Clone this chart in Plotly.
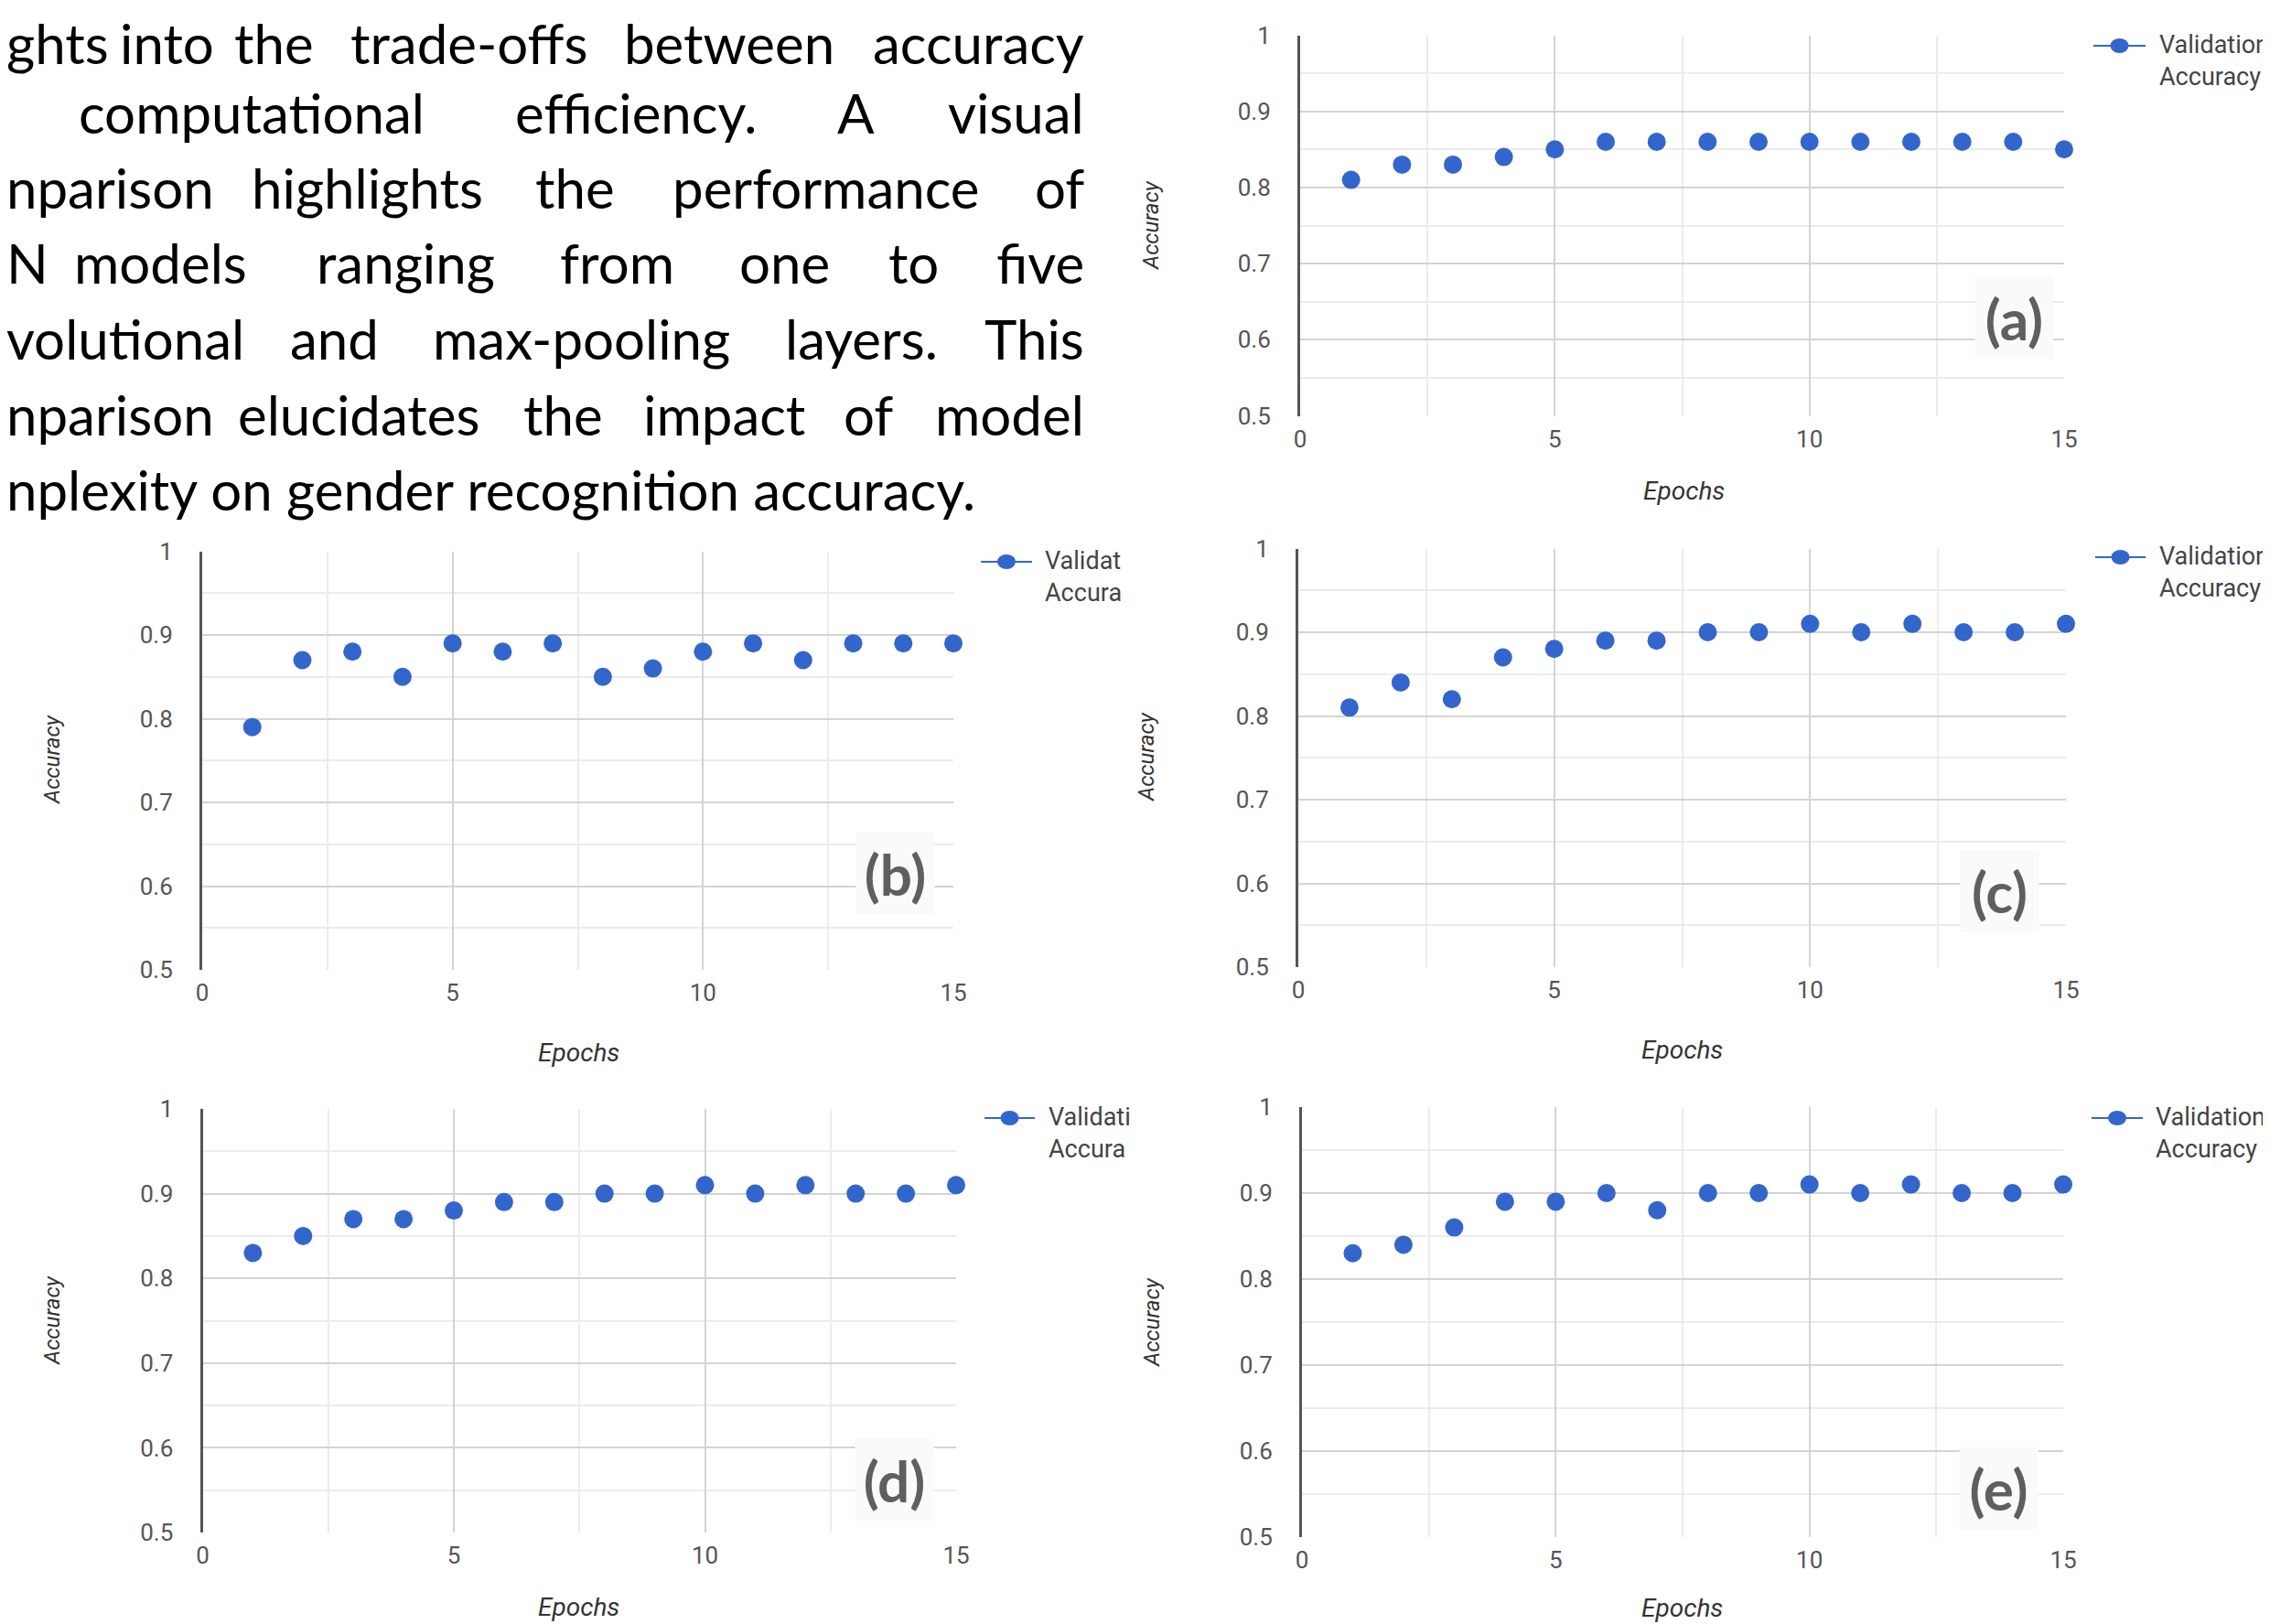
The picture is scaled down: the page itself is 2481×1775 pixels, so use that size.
import plotly.graph_objects as go

# ---------------- data ----------------
epochs = [1, 2, 3, 4, 5, 6, 7, 8, 9, 10, 11, 12, 13, 14, 15]
acc_a = [0.81, 0.83, 0.83, 0.84, 0.85, 0.86, 0.86, 0.86, 0.86, 0.86, 0.86, 0.86, 0.86, 0.86, 0.85]
acc_b = [0.79, 0.87, 0.88, 0.85, 0.89, 0.88, 0.89, 0.85, 0.86, 0.88, 0.89, 0.87, 0.89, 0.89, 0.89]
acc_c = [0.81, 0.84, 0.82, 0.87, 0.88, 0.89, 0.89, 0.90, 0.90, 0.91, 0.90, 0.91, 0.90, 0.90, 0.91]
acc_d = [0.83, 0.85, 0.87, 0.87, 0.88, 0.89, 0.89, 0.90, 0.90, 0.91, 0.90, 0.91, 0.90, 0.90, 0.91]
acc_e = [0.83, 0.84, 0.86, 0.89, 0.89, 0.90, 0.88, 0.90, 0.90, 0.91, 0.90, 0.91, 0.90, 0.90, 0.91]
series = [acc_a, acc_b, acc_c, acc_d, acc_e]

panel_labels = ["(a)", "(b)", "(c)", "(d)", "(e)"]
legend_names = ["Validation<br>Accuracy", "Validat<br>Accura", "Validation<br>Accuracy",
                "Validati<br>Accura", "Validation<br>Accuracy"]
x_tick_vals = [0, 5, 10, 15]
x_tick_text = ["0", "5", "10", "15"]
y_tick_vals = [0.5, 0.6, 0.7, 0.8, 0.9, 1.0]
y_tick_text = ["0.5", "0.6", "0.7", "0.8", "0.9", "1"]
x_title = "Epochs"
y_title = "Accuracy"

para_words = [
    ["ghts", "into", "the", "trade-offs", "between", "accuracy"],
    ["computational", "efficiency.", "A", "visual"],
    ["nparison", "highlights", "the", "performance", "of"],
    ["N", "models", "ranging", "from", "one", "to", "five"],
    ["volutional", "and", "max-pooling", "layers.", "This"],
    ["nparison", "elucidates", "the", "impact", "of", "model"],
    ["nplexity on gender recognition accuracy."],
]

# ---------------- layout (pixel geometry) ----------------
W, H = 2481, 1775
S = W / 1568.0   # word extents measured on the 1568-wide view
OFF = 8          # page offset of the figure inside the browser window

def px(x):
    return (x - OFF) / W

def py(y):
    return 1 - (y - OFF) / H

# plot-area boxes: left, right, top, bottom (px)
boxes = [
    (1421, 2256, 38.5, 454.5),
    (221, 1042, 602.5, 1060),
    (1419, 2258, 599.5, 1057),
    (221.5, 1045, 1212, 1675),
    (1423, 2255, 1210, 1680),
]
# legend: line x0, line x1, line y, text x
legend_geom = [
    (2288, 2345, 50, 2358),
    (1072, 1128, 614, 1140),
    (2290, 2345, 609, 2358),
    (1076, 1131, 1222, 1144),
    (2286, 2342, 1222, 2354),
]
label_pos = [(2201, 347), (978, 954), (2185, 973), (977, 1617), (2184, 1626)]
ytitle_pos = [(1258, 246), (57, 830), (1253, 827), (57, 1443), (1259, 1445)]
xtitle_pos = [(1840, 536), (633, 1150), (1839, 1147), (633, 1756), (1839, 1757)]

word_extents = [
    [(0, 60), (86, 145), (164, 215), (237, 411), (428, 580), (600, 750)],
    [(46, 302), (353, 525), (578, 605), (651, 750)],
    [(0, 138), (169, 339), (368, 426), (457, 684), (716, 750)],
    [(0, 7), (48, 174), (215, 346), (385, 467), (508, 576), (614, 648), (687, 750)],
    [(0, 169), (198, 264), (293, 510), (539, 651), (694, 750)],
    [(0, 138), (160, 336), (360, 418), (440, 561), (583, 617), (641, 750)],
    [(0, 697)],
]
para_mids = [50, 126, 208, 290.5, 373, 455.5, 538.2]
para_size = 60
para_left = OFF - 3

BLUE = "#3366CC"
TICK_FONT = dict(family="Roboto", size=26, color="#555555")

fig = go.Figure()
annotations = []
shapes = []

for i, vals in enumerate(series):
    sfx = "" if i == 0 else str(i + 1)
    xa, ya = "x" + sfx, "y" + sfx
    fig.add_trace(go.Scatter(
        x=epochs, y=vals, mode="markers", xaxis=xa, yaxis=ya,
        name=legend_names[i].replace("<br>", " "),
        marker=dict(color=BLUE, size=20), cliponaxis=False, showlegend=False))

    l, r, t, b = boxes[i]
    fig.layout["xaxis" + sfx] = dict(
        domain=[px(l), px(r)], range=[0, 15], anchor=ya,
        tickvals=x_tick_vals, ticktext=x_tick_text, tickfont=TICK_FONT,
        showgrid=True, gridcolor="#d4d4d4", gridwidth=2, zeroline=False,
        showline=False, ticks="", ticklabelstandoff=7,
        minor=dict(dtick=2.5, showgrid=True, gridcolor="#ececec", gridwidth=2),
        fixedrange=True)
    fig.layout["yaxis" + sfx] = dict(
        domain=[py(b), py(t)], range=[0.5, 1.0], anchor=xa,
        tickvals=y_tick_vals, ticktext=y_tick_text, tickfont=TICK_FONT,
        showgrid=True, gridcolor="#d4d4d4", gridwidth=2, zeroline=False,
        showline=True, linecolor="#555555", linewidth=3, ticks="",
        ticklabelstandoff=24,
        minor=dict(dtick=0.05, showgrid=True, gridcolor="#ececec", gridwidth=2),
        fixedrange=True)

    # legend (drawn as a line, a dot and a label)
    lx0, lx1, ly, tx = legend_geom[i]
    shapes.append(dict(type="line", xref="paper", yref="paper",
                       x0=px(lx0), x1=px(lx1), y0=py(ly), y1=py(ly),
                       line=dict(color=BLUE, width=2)))
    cxm = (lx0 + lx1) / 2
    shapes.append(dict(type="circle", xref="paper", yref="paper",
                       x0=px(cxm - 10), x1=px(cxm + 10), y0=py(ly + 8), y1=py(ly - 8),
                       fillcolor=BLUE, line=dict(color=BLUE, width=0)))
    annotations.append(dict(
        text=legend_names[i], x=px(tx), y=py(ly - 19), xref="paper", yref="paper",
        showarrow=False, xanchor="left", yanchor="top", align="left",
        font=dict(family="Roboto", size=27, color="#444444")))

    cx, cy = label_pos[i]
    annotations.append(dict(
        text="<b>" + panel_labels[i] + "</b>", x=px(cx), y=py(cy),
        xref="paper", yref="paper", showarrow=False, xanchor="center", yanchor="middle",
        font=dict(family="Lato", size=62, color="#5f5f5f"),
        bgcolor="#fafafa", width=83, height=87))

    tx, ty = ytitle_pos[i]
    annotations.append(dict(
        text="<i>" + y_title + "</i>", x=px(tx), y=py(ty), textangle=-90,
        xref="paper", yref="paper", showarrow=False, xanchor="center", yanchor="middle",
        font=dict(family="Roboto", size=24, color="#333333")))
    tx, ty = xtitle_pos[i]
    annotations.append(dict(
        text="<i>" + x_title + "</i>", x=px(tx), y=py(ty),
        xref="paper", yref="paper", showarrow=False, xanchor="center", yanchor="middle",
        font=dict(family="Roboto", size=28, color="#333333")))

# paragraph text (justified, cut at the left edge)
for li, (words, exts) in enumerate(zip(para_words, word_extents)):
    yc = para_mids[li] - 3
    for w, (a, b) in zip(words, exts):
        if a == 0:
            x, anchor = para_left, "left"
        elif b == 750:
            x, anchor = b * S, "right"
        else:
            x, anchor = (a + b) / 2 * S, "center"
        annotations.append(dict(
            text=w, x=px(x), y=py(yc), xref="paper", yref="paper",
            showarrow=False, xanchor=anchor, yanchor="middle",
            font=dict(family="Lato", size=para_size, color="#000000")))

fig.update_layout(
    width=W, height=H, margin=dict(l=0, r=0, t=0, b=0, autoexpand=False),
    paper_bgcolor="white", plot_bgcolor="white", showlegend=False,
    annotations=annotations, shapes=shapes, hovermode="closest")

fig.write_html("out.html")
